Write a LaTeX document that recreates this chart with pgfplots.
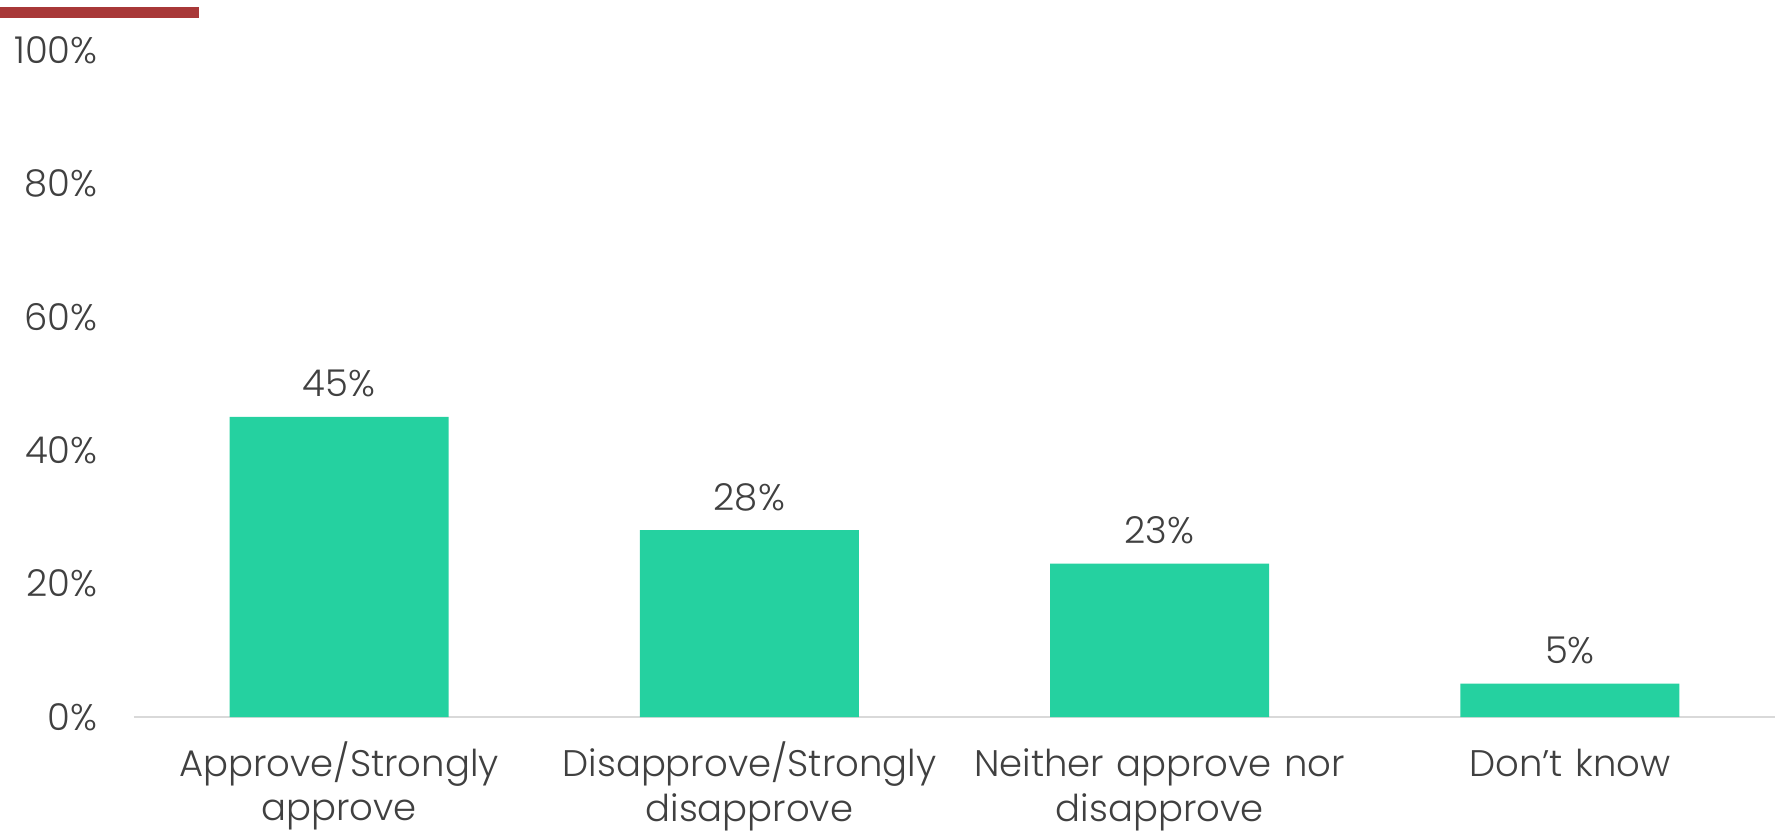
\documentclass[border=0pt]{standalone}
\usepackage{pgfplots}
\pgfplotsset{compat=1.18}
\usepackage{fontspec}
\setmainfont{Poppins Light}
\definecolor{barc}{RGB}{37,209,160}
\definecolor{txt}{RGB}{64,64,64}
\definecolor{axc}{RGB}{217,217,217}
\definecolor{redc}{RGB}{168,56,56}
\newcommand{\lblfont}{\fontsize{18.5}{20}\selectfont\lineskiplimit=-20pt\relax}
\begin{document}
\begin{tikzpicture}
\useasboundingbox (0,0) rectangle (887.5pt,415.5pt);
\fill[redc] (0,406.5pt) rectangle (99.5pt,412pt);
\begin{axis}[
  at={(67pt,57pt)}, anchor=south west,
  scale only axis, width=820.5pt, height=333.5pt,
  xmin=-0.5, xmax=3.5, ymin=0, ymax=100,
  ybar, bar width=109.5pt,
  axis x line*=bottom, axis y line*=left,
  x axis line style={draw=axc, line width=1pt},
  y axis line style={draw=none},
  major tick length=0pt,
  tick style={draw=none},
  xtick={0,1,2,3},
  xticklabels={Approve\smash{/}Strongly\\[2.2pt]approve, Disapprove\smash{/}Strongly\\[2.2pt]disapprove, Neither approve nor\\[2.2pt]disapprove, Don’t know},
  ytick={0,20,40,60,80,100},
  yticklabels={0\%,20\%,40\%,60\%,80\%,100\%},
  ticklabel style={font=\lblfont, text=txt},
  xticklabel style={text width=200pt, align=center, anchor=north, inner sep=0pt, yshift=-15.8pt},
  yticklabel style={anchor=east, inner sep=0pt, xshift=-18pt},
  nodes near coords={\pgfmathprintnumber[assume math mode=true]{\pgfplotspointmeta}\%},
  every node near coord/.append style={font=\lblfont, text=txt, anchor=base, inner sep=0pt, yshift=10pt},
  clip=false,
]
\addplot[fill=barc, draw=none] coordinates {(0,45) (1,28) (2,23) (3,5)};
\end{axis}
\end{tikzpicture}
\end{document}
